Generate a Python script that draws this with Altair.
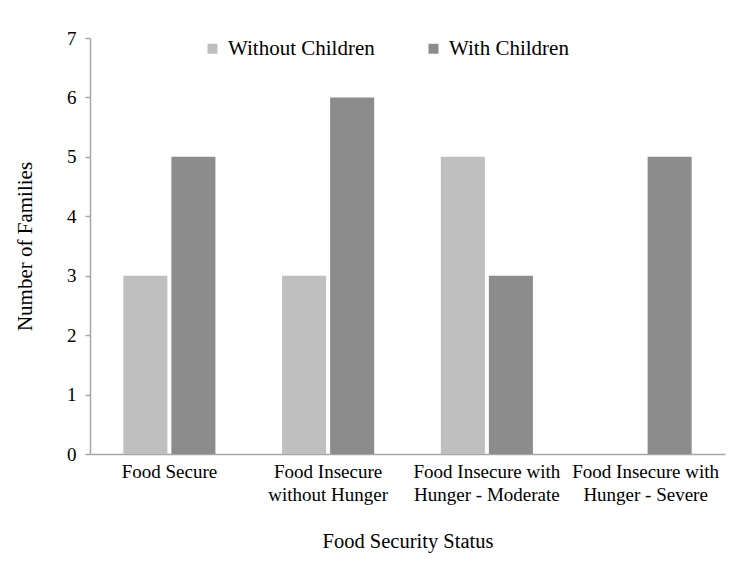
import altair as alt
import pandas as pd

categories = ["Food Secure", "Food Insecure|without Hunger", "Food Insecure with|Hunger - Moderate", "Food Insecure with|Hunger - Severe"]
without_children = [3, 3, 5, 0]
with_children = [5, 6, 3, 5]
series = ["Without Children", "With Children"]

rows = []
for c, a, b in zip(categories, without_children, with_children):
    rows.append({"cat": c, "series": series[0], "value": a})
    rows.append({"cat": c, "series": series[1], "value": b})
df = pd.DataFrame(rows)

font = "Liberation Serif"

chart = alt.Chart(df).mark_bar().encode(
    x=alt.X("cat:N", sort=categories,
            scale=alt.Scale(paddingInner=0.42, paddingOuter=0.21),
            axis=alt.Axis(title="Food Security Status", labelAngle=0,
                          labelExpr="split(datum.label, '|')",
                          ticks=False, labelPadding=8, labelLineHeight=23,
                          labelFontSize=19,
                          titlePadding=27, titleFontSize=20.5, titleFontWeight="normal")),
    xOffset=alt.XOffset("series:N", sort=series,
                        scale=alt.Scale(paddingInner=0.083, paddingOuter=0)),
    y=alt.Y("value:Q", scale=alt.Scale(domain=[0, 7]),
            axis=alt.Axis(title="Number of Families", values=list(range(8)),
                          grid=False, tickSize=5, labelPadding=9, labelFontSize=19,
                          titlePadding=31, titleFontSize=21, titleFontWeight="normal")),
    color=alt.Color("series:N", sort=series,
                    scale=alt.Scale(domain=series, range=["#bfbfbf", "#8c8c8c"]),
                    legend=alt.Legend(title=None, orient="none", direction="horizontal",
                                      legendX=112, legendY=0, symbolType="square",
                                      symbolSize=100, symbolStrokeWidth=0,
                                      labelFontSize=21, labelFont=font,
                                      columnPadding=48, labelOffset=5)),
).properties(
    width=635, height=416,
    autosize=alt.AutoSizeParams(type="none"),
    padding={"left": 82, "top": 30, "right": 17, "bottom": 102},
).configure_axis(
    labelFont=font, titleFont=font, labelColor="#000000",
    titleColor="#000000", domainColor="#a6a6a6", tickColor="#a6a6a6",
    domainWidth=1.5, tickWidth=1.5,
).configure_view(stroke=None)

chart.save("out.html", embed_options={"renderer": "svg", "actions": False})
